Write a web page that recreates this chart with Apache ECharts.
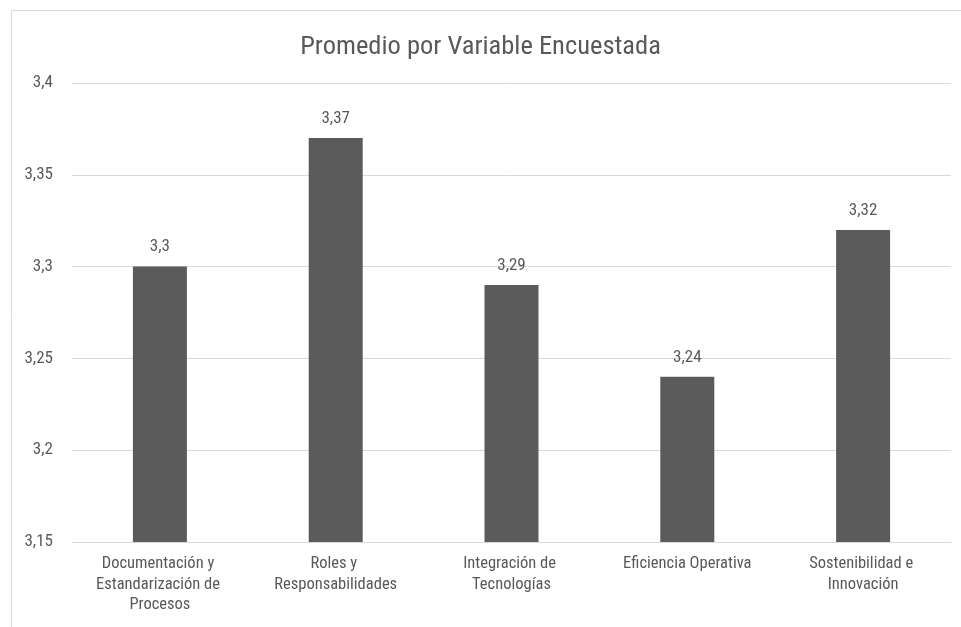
<!DOCTYPE html>
<html>
<head>
<meta charset="utf-8">
<script src="https://cdn.jsdelivr.net/npm/echarts@6/dist/echarts.min.js"></script>
<style>
html,body{margin:0;padding:0;background:#fff;}
#c{width:961px;height:627px;}
</style>
</head>
<body>
<div id="c"></div>
<script>
const categories = ["Documentación y Estandarización de Procesos", "Roles y Responsabilidades", "Integración de Tecnologías", "Eficiencia Operativa", "Sostenibilidad e Innovación"];
const values = [3.30, 3.37, 3.29, 3.24, 3.32];
const yTicks = [3.15, 3.2, 3.25, 3.3, 3.35, 3.4];

const FONT = '"Liberation Sans Narrow", "Arial Narrow", "Roboto Condensed", Roboto, "Liberation Sans", sans-serif';
const fmt = v => String(+v.toFixed(2)).replace('.', ',');

const chart = echarts.init(document.getElementById('c'), null, {renderer: 'canvas'});
chart.setOption({
  backgroundColor: '#ffffff',
  animation: false,
  title: {
    text: 'Promedio por Variable Encuestada',
    left: 'center',
    top: 29,
    textStyle: {fontFamily: FONT, fontSize: 26.5, fontWeight: 'normal', color: '#595959'}
  },
  graphic: [{
    type: 'rect',
    shape: {x: 11.5, y: 10.5, width: 1000, height: 700},
    style: {fill: 'none', stroke: '#d9d9d9', lineWidth: 1},
    silent: true
  }],
  grid: {left: 72, right: 10, top: 83, bottom: 85},
  xAxis: {
    type: 'category',
    data: categories,
    axisTick: {show: false},
    axisLine: {show: true, lineStyle: {color: '#d9d9d9', width: 1}},
    axisLabel: {
      interval: 0,
      fontFamily: FONT, fontSize: 16.5, color: '#595959',
      margin: 12, lineHeight: 20.5,
      width: 155, overflow: 'break'
    }
  },
  yAxis: {
    type: 'value',
    min: yTicks[0],
    max: yTicks[yTicks.length - 1],
    interval: 0.05,
    axisLine: {show: false},
    axisTick: {show: false},
    splitLine: {lineStyle: {color: '#d9d9d9', width: 1}},
    axisLabel: {
      fontFamily: FONT, fontSize: 17, color: '#595959', margin: 19,
      formatter: v => fmt(v)
    }
  },
  series: [{
    type: 'bar',
    data: values,
    barWidth: 54,
    itemStyle: {color: '#5b5b5b'},
    label: {
      show: true, position: 'top', distance: 11,
      fontFamily: FONT, fontSize: 17, color: '#595959',
      formatter: p => fmt(p.value)
    }
  }]
});
</script>
</body>
</html>
